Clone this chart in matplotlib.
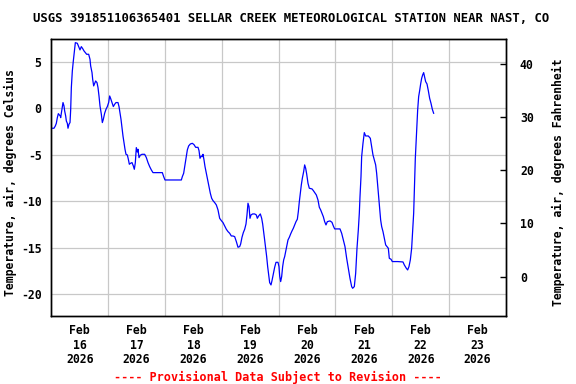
import matplotlib
matplotlib.use("Agg")
import matplotlib.pyplot as plt
import pandas as pd

# ---------------- data ----------------
title = "USGS 391851106365401 SELLAR CREEK METEOROLOGICAL STATION NEAR NAST, CO"
ylabel_left = "Temperature, air, degrees Celsius"
ylabel_right = "Temperature, air, degrees Fahrenheit"
footer = "---- Provisional Data Subject to Revision ----"
start = "2026-02-16 00:00"
days = [16, 17, 18, 19, 20, 21, 22, 23]
c_ticks = [5, 0, -5, -10, -15, -20]
f_ticks = [0, 10, 20, 30, 40]

hours = [
    0.0, 1.14, 1.70, 2.12, 2.55, 2.97, 3.39, 3.81, 3.95, 4.24, 4.66, 4.94, 5.36, 5.64,
    6.07, 6.35, 6.77, 7.05, 7.47, 7.90, 8.18, 8.46, 8.88, 9.30, 9.87, 10.15, 10.99,
    11.56, 12.12, 12.68, 13.25, 13.81, 14.37, 14.93, 15.78, 16.34, 16.62, 17.19, 17.47,
    17.89, 18.31, 18.73, 19.30, 19.72, 20.14, 20.56, 21.13, 21.55, 21.97, 22.53, 23.10,
    23.66, 24.22, 24.65, 25.07, 25.63, 26.19, 26.76, 27.32, 28.16, 28.59, 29.01, 29.43,
    29.85, 30.27, 30.70, 31.12, 31.54, 32.10, 32.53, 32.95, 33.51, 34.07, 34.64, 35.06,
    35.48, 35.90, 36.33, 36.61, 37.03, 37.59, 38.30, 39.42,
    40.13, 40.83, 41.53, 42.24, 42.94, 44.35, 46.88, 47.45, 48.01, 49.98, 54.91, 55.33,
    55.89, 56.45, 57.02, 57.44, 58.00, 58.71, 59.55, 60.25, 60.96, 61.94, 62.37, 62.79,
    63.35, 63.77, 64.05, 64.48, 64.90, 65.46, 66.03, 66.59, 67.15, 67.72, 68.28, 68.98,
    69.68, 70.39, 71.09, 71.80, 72.50, 73.20, 73.91, 74.61, 75.32, 76.02, 76.72, 77.43,
    78.13,
    78.83, 79.54, 79.96, 80.52, 81.08, 81.65, 82.21, 82.63, 83.05, 83.48, 83.90, 84.32,
    85.03, 85.87, 86.57, 86.99, 87.56, 88.26, 88.83, 89.25, 89.67, 90.09, 90.52, 90.94,
    91.36, 91.78, 92.20, 92.77, 93.19, 93.75, 94.32, 94.88, 95.72, 96.14, 96.43, 96.85,
    97.27, 97.69, 98.12, 98.54, 98.96, 99.38, 99.94, 100.51, 101.07, 101.63, 102.20,
    102.76, 103.32, 103.89, 104.31, 104.73, 105.15, 105.57, 106.00, 106.56, 106.98,
    107.41, 107.83, 108.39, 108.95, 110.08, 110.64, 111.21, 111.91, 112.61, 113.17,
    113.74, 114.30, 114.86, 115.43, 115.99, 116.55, 117.68, 118.52, 119.09, 119.65,
    121.90, 122.61, 123.31, 124.01, 124.72, 125.42, 126.12, 126.83, 127.25, 127.95,
    128.52, 129.08, 129.64, 130.06, 130.35, 130.77, 131.05, 131.61, 132.17, 132.74,
    133.86, 134.71, 135.27, 135.83, 136.40, 136.96, 137.38, 137.81, 138.23, 138.65,
    139.07, 139.50, 140.06, 140.62, 141.19, 141.75, 142.31, 142.73, 143.44, 144.00,
    145.13, 146.25, 148.50, 149.06, 149.91, 150.47, 151.03, 151.60, 152.16, 152.58,
    153.01, 153.29, 153.71, 154.27, 154.70, 155.12, 155.54, 155.96, 156.39, 156.81,
    157.23, 157.65, 158.07, 158.64, 159.20, 159.76, 160.33, 160.89, 161.45,
]

temp_c = [
    -2.15, -2.15, -1.90, -1.62, -1.01, -0.58, -0.72, -0.83, -1.01, -0.54, 0.07, 0.61, 0.25, -0.29,
    -0.83, -1.37, -1.62, -2.15, -1.72, -1.54, -0.18, 2.22, 4.01, 5.08, 6.34, 7.05, 6.98,
    6.62, 6.27, 6.62, 6.41, 6.16, 5.98, 5.80, 5.80, 5.26, 4.55, 3.83, 3.11,
    2.40, 2.65, 2.93, 2.75, 2.22, 1.32, 0.25, -0.65, -1.54, -1.19, -0.54, -0.11,
    0.18, 0.61, 1.32, 1.04, 0.61, 0.18, 0.43, 0.61, 0.61, 0.18, -0.54, -1.19,
    -2.08, -2.98, -3.69, -4.41, -4.95, -5.02, -5.48, -6.02, -5.91, -5.84, -6.20, -6.56,
    -5.84, -4.23, -4.70, -4.41, -5.31, -5.05, -4.95, -4.95,
    -5.30, -5.84, -6.27, -6.63, -6.92, -6.92, -6.92, -7.35, -7.71, -7.71, -7.71, -7.35,
    -6.99, -6.09, -5.20, -4.48, -4.05, -3.84, -3.77, -3.91, -4.20, -4.20, -4.55, -5.38,
    -5.13, -5.20, -4.95, -5.56, -6.27, -6.99, -7.71, -8.42, -9.14, -9.68, -9.93, -10.14,
    -10.39, -10.93, -11.83, -12.08, -12.29, -12.65, -13.01, -13.26, -13.44, -13.73, -13.73, -13.80,
    -14.33,
    -14.94, -14.87, -14.59, -13.87, -13.37, -13.01, -12.44, -11.47, -10.21, -10.57, -11.83, -11.47,
    -11.36, -11.36, -11.47, -11.83, -11.58, -11.36, -11.83, -12.44, -13.26, -14.16, -15.05, -15.95,
    -17.02, -17.92, -18.74, -18.99, -18.53, -17.81, -17.09, -16.56, -16.56, -17.02, -18.02, -18.63,
    -18.10, -17.02, -16.30, -15.95, -15.41, -14.87, -14.16, -13.87, -13.51, -13.19, -12.90,
    -12.54, -12.19, -11.93, -11.11, -10.04, -9.14, -8.24, -7.53, -6.81, -6.09,
    -6.45, -7.06, -8.06, -8.60, -8.67, -8.85, -9.07, -9.32, -9.86, -10.64,
    -10.93, -11.29, -11.65, -12.19, -12.54, -12.19, -12.11, -12.26, -12.65, -12.97,
    -12.97, -13.44, -14.16, -14.87, -16.13, -17.20, -18.28, -19.17, -19.35, -19.17,
    -17.74, -15.05, -13.08, -11.29, -9.50, -7.35, -5.20, -3.77, -2.62, -2.98,
    -2.98, -3.23, -4.12, -5.02, -5.56, -6.09, -6.99, -8.24, -9.50, -10.75,
    -12.01, -12.72, -13.26, -13.98, -14.69, -14.87, -15.05, -16.13, -16.23, -16.48,
    -16.48, -16.48, -16.52, -16.84, -17.20, -17.38, -17.02, -16.30, -15.05, -13.26,
    -11.29, -8.96, -5.38, -2.33, -0.18, 1.25, 1.89, 2.61, 3.22, 3.58,
    3.83, 3.33, 2.86, 2.61, 1.89, 1.07, 0.53, -0.11, -0.54,
]

# ---------------- plot ----------------
FONT = "DejaVu Sans Mono"
FS = 8.3
t0 = pd.Timestamp(start)
times = t0 + pd.to_timedelta(hours, unit="h")

fig = plt.figure(figsize=(5.76, 3.84), dpi=100)
ax = fig.add_axes([51.3 / 576, 1 - 316 / 384, (506 - 51.3) / 576, (316 - 39.3) / 384])

ax.plot(times, temp_c, color="#0000ff", lw=0.9, zorder=3)

ax.set_xlim(t0, t0 + pd.Timedelta(days=8))
ax.set_ylim(-22.33, 7.41)

major = [pd.Timestamp(2026, 2, d, 12) for d in days]
minor = [pd.Timestamp(2026, 2, d) for d in days[1:]]
ax.set_xticks(major)
ax.set_xticklabels([f"Feb\n{d}\n2026" for d in days], fontfamily=FONT,
                   fontweight="bold", fontsize=FS, linespacing=1.12)
ax.set_xticks(minor, minor=True)
ax.tick_params(axis="x", which="both", length=0, pad=6)

ax.set_yticks(c_ticks)
ax.set_yticklabels([str(v) for v in c_ticks], fontfamily=FONT,
                   fontweight="bold", fontsize=FS)
ax.tick_params(axis="y", length=0, pad=7)

ax.grid(False)
ax.grid(True, which="minor", axis="x", color="#c8c8c8", lw=0.9, zorder=1)
ax.grid(True, which="major", axis="y", color="#c8c8c8", lw=0.9, zorder=1)
ax.set_axisbelow(True)

for s in ax.spines.values():
    s.set_linewidth(1.0)
    s.set_color("black")

ax.set_ylabel(ylabel_left, fontfamily=FONT, fontweight="bold", fontsize=FS)
ax.yaxis.set_label_coords(-0.0761, 0.484)

ax2 = ax.twinx()
ax2.set_ylim(-7.37, 44.55)
ax2.set_yticks(f_ticks)
ax2.set_yticklabels([str(v) for v in f_ticks], fontfamily=FONT,
                    fontweight="bold", fontsize=FS)
ax2.tick_params(axis="y", direction="in", length=4.5, width=1.0, pad=10)
ax2.set_ylabel(ylabel_right, fontfamily=FONT, fontweight="bold", fontsize=FS)
ax2.yaxis.set_label_coords(1.1006, 0.484)
for s in ax2.spines.values():
    s.set_linewidth(1.0)

fig.text(291 / 576, 1 - 19 / 384, title, ha="center", va="center",
         fontfamily=FONT, fontweight="bold", fontsize=8.8)
fig.text(277.5 / 576, 1 - 377.5 / 384, footer, ha="center", va="center",
         fontfamily=FONT, fontweight="bold", fontsize=8.45, color="red")

fig.savefig("out.png", dpi=100)
